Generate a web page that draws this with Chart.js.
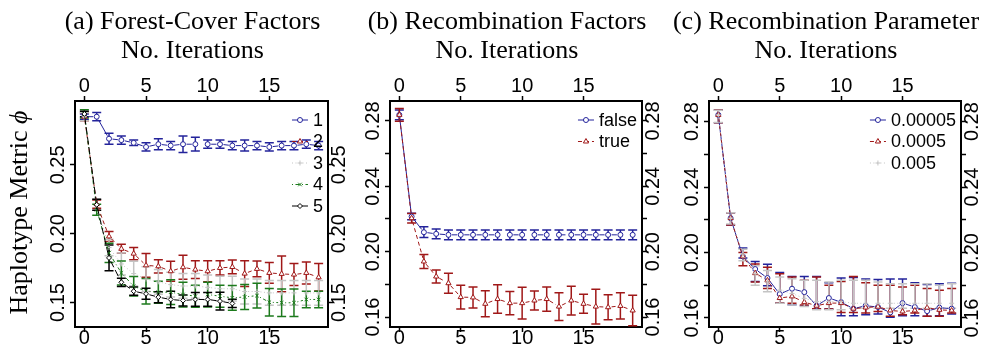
<!DOCTYPE html>
<html>
<head>
<meta charset="utf-8">
<script src="https://cdn.jsdelivr.net/npm/chart.js@4"></script>
<style>
  body { margin: 0; background: #fff; }
  #wrap { position: relative; width: 985px; height: 347px; }
  canvas { position: absolute; top: 0; }
</style>
</head>
<body>
<div id="wrap">
  <canvas id="chartA" width="350" height="347" style="left:0px"></canvas>
  <canvas id="chartB" width="320" height="347" style="left:350px"></canvas>
  <canvas id="chartC" width="315" height="347" style="left:670px"></canvas>
</div>
<script>
// --- data -------------------------------------------------------------
const iterations = [0, 1, 2, 3, 4, 5, 6, 7, 8, 9, 10, 11, 12, 13, 14, 15, 16, 17, 18, 19];
const xTicks = [0, 5, 10, 15];
const xTitle = 'No. Iterations';
const yTitle = 'Haplotype Metric ';

// (a) forest-cover factors, mean and half-width of the bar
const titleA = '(a) Forest-Cover Factors';
const labelsA = ['1', '2', '3', '4', '5'];
const forest1 = [0.285, 0.285, 0.269, 0.268, 0.266, 0.263, 0.265, 0.264, 0.265, 0.265, 0.265, 0.265, 0.264, 0.264, 0.264, 0.263, 0.264, 0.264, 0.265, 0.264];
const forest1Err = [0.002, 0.003, 0.004, 0.003, 0.002, 0.003, 0.004, 0.003, 0.006, 0.005, 0.003, 0.003, 0.003, 0.004, 0.003, 0.003, 0.003, 0.003, 0.003, 0.003];
const forest2 = [0.285, 0.2215, 0.198, 0.189, 0.1855, 0.177, 0.1763, 0.1727, 0.1756, 0.1739, 0.1727, 0.1751, 0.1758, 0.171, 0.1744, 0.1715, 0.1708, 0.1703, 0.1715, 0.1683];
const forest2Err = [0.003, 0.003, 0.0036, 0.0033, 0.0045, 0.0086, 0.0048, 0.0072, 0.0087, 0.0064, 0.0076, 0.0052, 0.005, 0.0093, 0.0057, 0.0076, 0.013, 0.008, 0.008, 0.01];
const forest3 = [0.285, 0.221, 0.19, 0.178, 0.171, 0.167, 0.165, 0.163, 0.162, 0.162, 0.161, 0.16, 0.16, 0.158, 0.158, 0.157, 0.157, 0.157, 0.157, 0.157];
const forest3Err = [0.003, 0.004, 0.006, 0.008, 0.009, 0.009, 0.009, 0.009, 0.009, 0.009, 0.009, 0.009, 0.009, 0.009, 0.009, 0.009, 0.009, 0.009, 0.009, 0.009];
const forest4 = [0.287, 0.2174, 0.186, 0.1715, 0.1618, 0.1582, 0.1575, 0.1575, 0.1558, 0.1546, 0.1558, 0.1546, 0.1534, 0.154, 0.155, 0.1502, 0.1498, 0.1498, 0.1522, 0.1522];
const forest4Err = [0.003, 0.004, 0.007, 0.0087, 0.007, 0.0093, 0.008, 0.009, 0.009, 0.008, 0.009, 0.008, 0.009, 0.009, 0.009, 0.01, 0.01, 0.01, 0.006, 0.006];
const forest5 = [0.287, 0.221, 0.1824, 0.1647, 0.1582, 0.1563, 0.1539, 0.1522, 0.1514, 0.1522, 0.1522, 0.151, 0.1493];
const forest5Err = [0.002, 0.004, 0.0094, 0.003, 0.003, 0.004, 0.004, 0.006, 0.004, 0.005, 0.005, 0.0064, 0.003];
const yTicksA = [0.15, 0.20, 0.25];
const yLabelsA = ['0.15', '0.20', '0.25'];

// (b) recombination factors
const titleB = '(b) Recombination Factors';
const labelsB = ['false', 'true'];
const recombFalse = [0.2837, 0.2215, 0.2119, 0.2109, 0.2103, 0.2103, 0.2103, 0.2103, 0.2103, 0.2103, 0.2103, 0.2103, 0.2103, 0.2103, 0.2103, 0.2103, 0.2103, 0.2103, 0.2103, 0.2103];
const recombFalseErr = [0.003, 0.002, 0.0033, 0.003, 0.003, 0.003, 0.003, 0.003, 0.003, 0.003, 0.003, 0.003, 0.003, 0.003, 0.003, 0.003, 0.003, 0.003, 0.003, 0.003];
const recombTrue = [0.2837, 0.2205, 0.194, 0.1848, 0.1807, 0.1722, 0.172, 0.1681, 0.171, 0.1685, 0.1685, 0.1701, 0.171, 0.1664, 0.1701, 0.1681, 0.1664, 0.166, 0.1668, 0.164];
const recombTrueErr = [0.0039, 0.0029, 0.0043, 0.004, 0.0061, 0.0073, 0.0064, 0.008, 0.0087, 0.0071, 0.0097, 0.0058, 0.0074, 0.0085, 0.0088, 0.0058, 0.0106, 0.0076, 0.008, 0.0094];
const yTicksBC = [0.16, 0.18, 0.20, 0.22, 0.24, 0.26, 0.28];
const yLabelsBC = ['0.16', '0.20', '0.24', '0.28'];

// (c) recombination parameter, bars read as lower / upper ends
const titleC = '(c) Recombination Parameter';
const labelsC = ['0.00005', '0.0005', '0.005'];
const param1 = [0.2841, 0.221, 0.1976, 0.1899, 0.1844, 0.1746, 0.1779, 0.1758, 0.1675, 0.1722, 0.1697, 0.1657, 0.1675, 0.1667, 0.1634, 0.1691, 0.1667, 0.1642, 0.1663, 0.1657];
const param1Hi = [0.2871, 0.2243, 0.2027, 0.1945, 0.1929, 0.1878, 0.1853, 0.1853, 0.1853, 0.1815, 0.1844, 0.1848, 0.1838, 0.1835, 0.1838, 0.1838, 0.1815, 0.1805, 0.181, 0.1812];
const param1Lo = [0.2793, 0.2169, 0.1966, 0.1823, 0.1797, 0.1691, 0.1681, 0.1675, 0.1657, 0.1655, 0.1614, 0.1614, 0.162, 0.1625, 0.1605, 0.1614, 0.1614, 0.161, 0.1614, 0.1625];
const param2 = [0.2841, 0.221, 0.1976, 0.1874, 0.183, 0.1722, 0.1732, 0.1697, 0.1675, 0.1691, 0.1691, 0.1657, 0.1664, 0.1669, 0.1646, 0.164, 0.1646, 0.1663, 0.165, 0.1646];
const param2Hi = [0.2871, 0.2243, 0.2, 0.193, 0.191, 0.187, 0.185, 0.183, 0.185, 0.18, 0.1823, 0.1853, 0.1815, 0.18, 0.18, 0.179, 0.18, 0.178, 0.177, 0.178];
const param2Lo = [0.2793, 0.2169, 0.192, 0.182, 0.178, 0.1691, 0.169, 0.168, 0.1657, 0.1655, 0.1633, 0.1633, 0.163, 0.164, 0.161, 0.162, 0.163, 0.161, 0.161, 0.163];
const param3 = [0.2841, 0.221, 0.199, 0.187, 0.182, 0.177, 0.175, 0.172, 0.17, 0.17, 0.17, 0.169, 0.169, 0.169, 0.169, 0.169, 0.169, 0.169, 0.169, 0.169];
const param3Hi = [0.287, 0.2243, 0.202, 0.192, 0.189, 0.185, 0.184, 0.183, 0.183, 0.182, 0.183, 0.183, 0.183, 0.182, 0.181, 0.181, 0.181, 0.181, 0.18, 0.181];
const param3Lo = [0.2795, 0.2175, 0.195, 0.18, 0.176, 0.169, 0.168, 0.167, 0.165, 0.165, 0.165, 0.166, 0.166, 0.166, 0.166, 0.166, 0.166, 0.166, 0.166, 0.166];

// --- styles -----------------------------------------------------------
const BLUE = '#23239b', RED = '#a01818', GRAY = '#c4c4c4', GREEN = '#1c7a1c', BLACK = '#000000';
const lty = { solid: null, dashed: [4, 3], dotted: [1, 2.5], dotdash: [1, 2.5, 4, 2.5], longdash: [7, 3] };
const SERIF = '26px "Liberation Serif"';
const SANS = '20px "Liberation Sans"';

// R type="b" leaves a gap round each point: one dash array per segment
function gapDash(p0, p1, pat) {
    const L = Math.hypot(p1.x - p0.x, p1.y - p0.y);
    const g = 3.5, inner = L - 2 * g;
    if (inner <= 0.5) return [0, L + 10];
    const out = [0, g];
    if (!pat) { out.push(inner, g + 10); return out; }
    let used = 0, k = 0;
    while (true) {
        const on = Math.min(pat[k % pat.length], inner - used);
        out.push(on); used += on; k++;
        if (used >= inner - 0.01) { out.push(g + 10); break; }
        const off = Math.min(pat[k % pat.length], inner - used);
        out.push(off); used += off; k++;
        if (used >= inner - 0.01) { out[out.length - 1] += g + 10; break; }
    }
    return out;
}

function series(label, values, lo, hi, color, pointStyle, dash, n) {
    return {
        label: label,
        data: values.map((v, i) => ({ x: iterations[i], y: v })),
        lo: lo,
        hi: hi,
        borderColor: color,
        borderWidth: 1,
        pointStyle: pointStyle,
        pointRadius: pointStyle === 'triangle' ? 3 : 2.5,
        pointBorderWidth: 1,
        pointBorderColor: color,
        pointBackgroundColor: '#ffffff',
        lty: dash,
        order: n,
        segment: { borderDash: ctx => gapDash(ctx.p0, ctx.p1, lty[dash]) }
    };
}

// symmetric bars: mean +/- half-width
function withErr(label, values, err, color, pointStyle, dash, n) {
    return series(label, values, values.map((v, i) => v - err[i]), values.map((v, i) => v + err[i]), color, pointStyle, dash, n);
}

// error bars under the markers
const errorBars = {
    id: 'errorBars',
    beforeDatasetsDraw(chart) {
        const { ctx } = chart;
        const y = chart.scales.y;
        chart.data.datasets.forEach((ds, i) => {
            const meta = chart.getDatasetMeta(i);
            ctx.save();
            ctx.strokeStyle = ds.borderColor;
            ctx.lineWidth = 1.5;
            meta.data.forEach((pt, j) => {
                const top = y.getPixelForValue(ds.hi[j]), bot = y.getPixelForValue(ds.lo[j]);
                ctx.beginPath();
                ctx.moveTo(pt.x, top); ctx.lineTo(pt.x, bot);
                ctx.moveTo(pt.x - 4.5, top); ctx.lineTo(pt.x + 4.5, top);
                ctx.moveTo(pt.x - 4.5, bot); ctx.lineTo(pt.x + 4.5, bot);
                ctx.stroke();
            });
            ctx.restore();
        });
    }
};

// titles, rotated tick labels, y title, legend
const decor = {
    id: 'decor',
    afterDraw(chart, args, o) {
        const { ctx, chartArea: ca, scales } = chart;
        ctx.save();
        ctx.fillStyle = '#000';
        const cx = (ca.left + ca.right) / 2 - 9;
        ctx.font = SERIF;
        ctx.textAlign = 'center';
        ctx.textBaseline = 'alphabetic';
        ctx.fillText(o.title, cx, 28.5);
        ctx.fillText(xTitle, cx, 57.5);

        ctx.font = SANS;
        ctx.textBaseline = 'middle';
        xTicks.forEach(v => {
            const x = scales.x.getPixelForValue(v);
            ctx.fillText(String(v), x, ca.top - 14.5);
            ctx.fillText(String(v), x, ca.bottom + 11.5);
        });
        o.yLabels.forEach(s => {
            const y = scales.y.getPixelForValue(parseFloat(s));
            [ca.left - 17, ca.right + 11].forEach(x => {
                ctx.save();
                ctx.translate(x, y);
                ctx.rotate(-Math.PI / 2);
                ctx.fillText(s, 0, 0);
                ctx.restore();
            });
        });

        if (o.yTitle) {
            ctx.save();
            ctx.translate(26.5, 212.5);
            ctx.rotate(-Math.PI / 2);
            ctx.textBaseline = 'alphabetic';
            ctx.textAlign = 'left';
            ctx.font = SERIF;
            const w1 = ctx.measureText(yTitle).width;
            ctx.font = 'italic ' + SERIF;
            const w2 = ctx.measureText('ϕ').width;
            ctx.font = SERIF;
            ctx.fillText(yTitle, -(w1 + w2) / 2, 0);
            ctx.font = 'italic ' + SERIF;
            ctx.fillText('ϕ', -(w1 + w2) / 2 + w1, 0);
            ctx.restore();
        }

        // legend, top right inside the box
        ctx.font = '18px "Liberation Sans"';
        ctx.textAlign = 'left';
        const dss = chart.data.datasets;
        const maxW = Math.max(...dss.map(d => ctx.measureText(d.label).width));
        const tx = ca.right - 5 - maxW;
        dss.forEach((d, k) => {
            const y = ca.top + 19 + k * 21.5;
            ctx.strokeStyle = d.borderColor;
            ctx.lineWidth = 1;
            ctx.setLineDash(lty[d.lty] || []);
            ctx.beginPath();
            ctx.moveTo(tx - 21, y); ctx.lineTo(tx - 5, y);
            ctx.stroke();
            ctx.setLineDash([]);
            ctx.fillStyle = '#fff';
            Chart.helpers.drawPoint(ctx, { pointStyle: d.pointStyle, radius: d.pointRadius, borderWidth: 1, rotation: 0 }, tx - 13, y);
            ctx.fillStyle = '#000';
            ctx.fillText(d.label, tx, y + 1);
        });
        ctx.restore();
    }
};

function axis(position, min, max, ticks, tickLength) {
    return {
        type: 'linear',
        position: position,
        min: min,
        max: max,
        afterBuildTicks: a => { a.ticks = ticks.map(v => ({ value: v })); },
        ticks: { display: false },
        grid: { display: true, drawOnChartArea: false, drawTicks: true, tickLength: tickLength, tickWidth: 1.5, tickColor: '#000' },
        border: { display: true, color: '#000', width: 2 }
    };
}

function makePanel(id, datasets, yMin, yMax, yTicks, opts, padding) {
    new Chart(document.getElementById(id), {
        type: 'line',
        data: { datasets: datasets },
        options: {
            responsive: false,
            animation: false,
            devicePixelRatio: 1,
            layout: { padding: padding },
            scales: {
                x: axis('bottom', -0.76, 19.76, xTicks, 5),
                x2: axis('top', -0.76, 19.76, xTicks, 5),
                y: axis('left', yMin, yMax, yTicks, 5),
                y2: axis('right', yMin, yMax, yTicks, 5)
            },
            plugins: {
                legend: { display: false },
                tooltip: { enabled: false },
                decor: opts
            }
        },
        plugins: [errorBars, decor]
    });
}

makePanel('chartA', [
    withErr(labelsA[0], forest1, forest1Err, BLUE, 'circle', 'solid', 5),
    withErr(labelsA[1], forest2, forest2Err, RED, 'triangle', 'dashed', 4),
    withErr(labelsA[2], forest3, forest3Err, GRAY, 'cross', 'dotted', 3),
    withErr(labelsA[3], forest4, forest4Err, GREEN, 'crossRot', 'dotdash', 2),
    withErr(labelsA[4], forest5, forest5Err, BLACK, 'rectRot', 'longdash', 1)
], 0.1322, 0.2964, yTicksA, { title: titleA, yLabels: yLabelsA, yTitle: true },
    { left: 70, right: 17, top: 96, bottom: 15 });

makePanel('chartB', [
    withErr(labelsB[0], recombFalse, recombFalseErr, BLUE, 'circle', 'solid', 2),
    withErr(labelsB[1], recombTrue, recombTrueErr, RED, 'triangle', 'dashed', 1)
], 0.1539, 0.2922, yTicksBC, { title: titleB, yLabels: yLabelsBC },
    { left: 35, right: 23, top: 96, bottom: 15 });

makePanel('chartC', [
    series(labelsC[0], param1, param1Lo, param1Hi, BLUE, 'circle', 'solid', 3),
    series(labelsC[1], param2, param2Lo, param2Hi, RED, 'triangle', 'dashed', 2),
    series(labelsC[2], param3, param3Lo, param3Hi, GRAY, 'cross', 'dotted', 1)
], 0.1545, 0.2926, yTicksBC, { title: titleC, yLabels: yLabelsBC },
    { left: 34, right: 19, top: 96, bottom: 15 });
</script>
</body>
</html>
